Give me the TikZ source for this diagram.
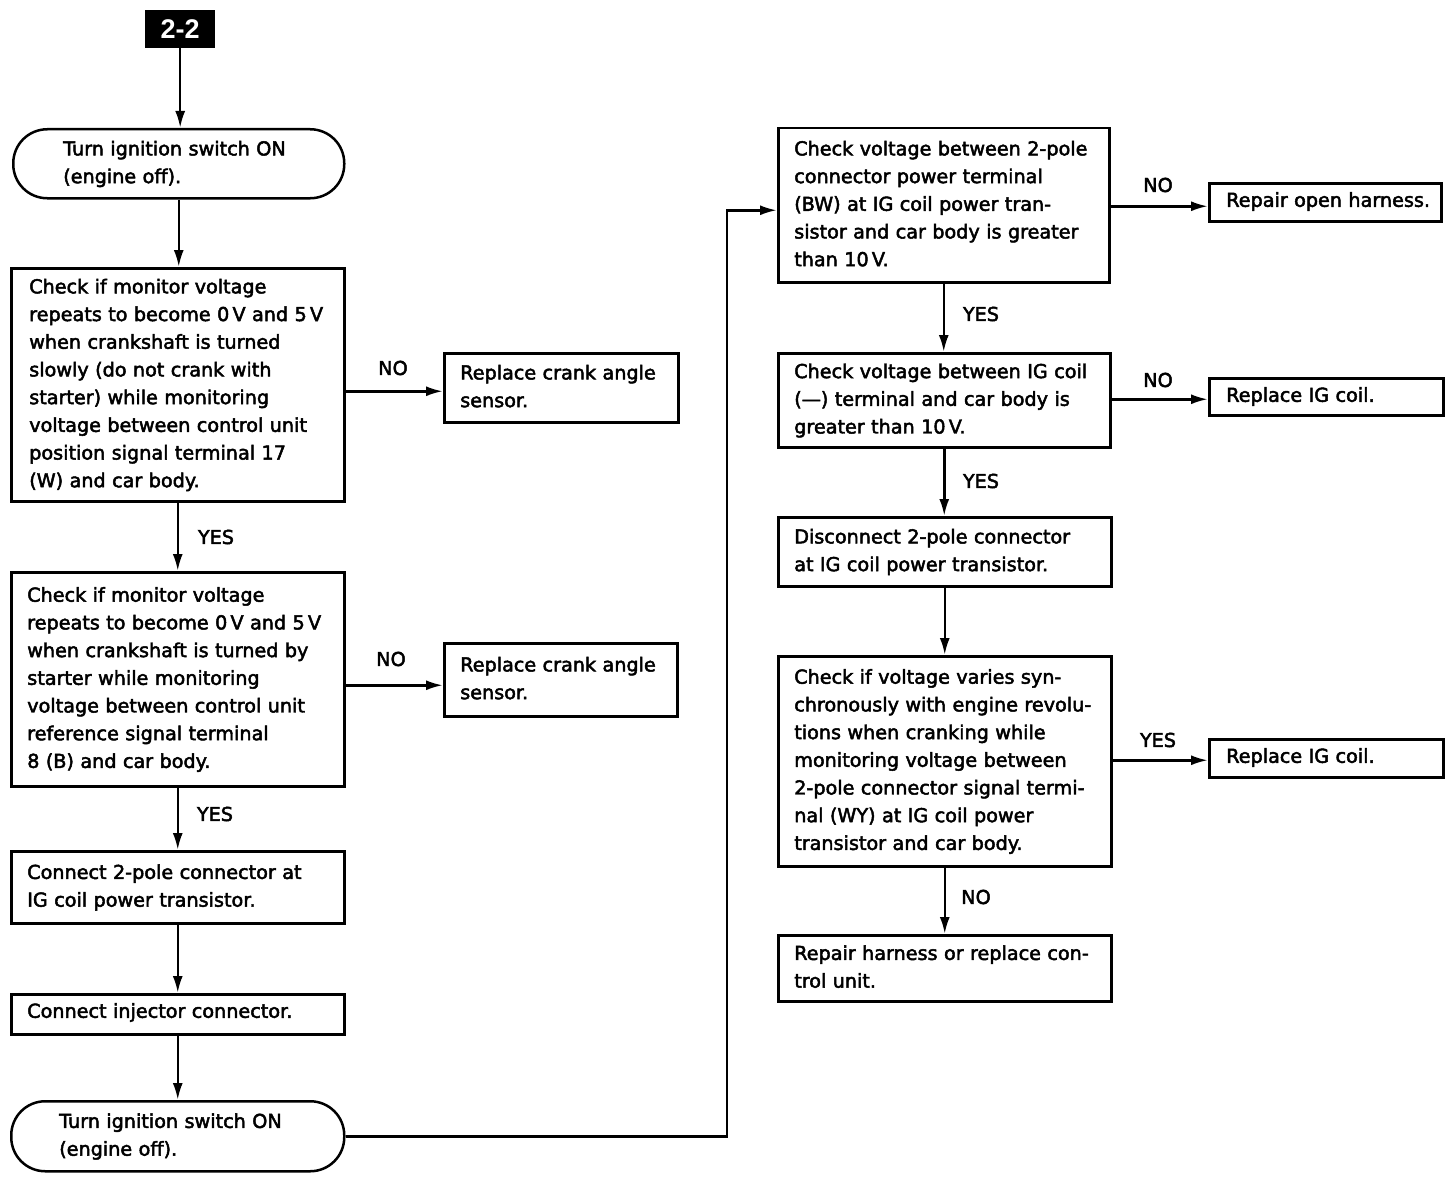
\documentclass[tikz,border=0pt]{standalone}
\usepackage{fontspec}
\setmainfont{DejaVu Sans}[FakeBold=2.5]
\newfontfamily\labfam{Liberation Sans}
\usetikzlibrary{arrows.meta}
\newcommand{\boxtxt}[3][0pt]{\begin{tabular}{@{\hspace{#2}}l@{}}#3\\[#1]\end{tabular}}
\begin{document}
\begin{tikzpicture}[x=1pt,y=-1pt,
  every node/.style={font=\fontsize{19.2}{27.7}\selectfont},
  box/.style={draw, line width=2.5pt, inner sep=0pt, align=left, anchor=north west},
  term/.style={box, rounded corners=34pt},
  arr/.style={line width=2.5pt, -{Latex[length=17pt,width=10pt]}},
  lab/.style={inner sep=0pt, anchor=center}]
\useasboundingbox (0,0) rectangle (1456,1180);

% start label
\node[fill=black, text=white, inner sep=0pt, minimum width=70pt, minimum height=38pt,
  anchor=north west, font=\labfam\bfseries\fontsize{27}{30}\selectfont] (start) at (145,10) {2-2};

% left column
\node[term, text width=331pt, minimum height=69pt] (t1) at (12,128)
  {\boxtxt{50pt}{Turn ignition switch ON\\(engine off).}};
\node[box, text width=333pt, minimum height=233pt] (b1) at (10,267)
  {\boxtxt{18pt}{Check if monitor voltage\\repeats to become 0\,V and 5\,V\\when crankshaft is turned\\slowly (do not crank with\\starter) while monitoring\\voltage between control unit\\position signal terminal 17\\(W) and car body.}};
\node[box, text width=234pt, minimum height=69pt] (r1) at (443,352)
  {\boxtxt{16pt}{Replace crank angle\\sensor.}};
\node[box, text width=333pt, minimum height=214pt] (b2) at (10,571)
  {\boxtxt{16pt}{Check if monitor voltage\\repeats to become 0\,V and 5\,V\\when crankshaft is turned by\\starter while monitoring\\voltage between control unit\\reference signal terminal\\8 (B) and car body.}};
\node[box, text width=233pt, minimum height=73pt] (r2) at (443,642)
  {\boxtxt{16pt}{Replace crank angle\\sensor.}};
\node[box, text width=333pt, minimum height=72pt] (b3) at (10,850)
  {\boxtxt{16pt}{Connect 2-pole connector at\\IG coil power transistor.}};
\node[box, text width=333pt, minimum height=40pt] (b4) at (10,993)
  {\boxtxt[4pt]{16pt}{Connect injector connector.}};
\node[term, text width=333pt, minimum height=70pt] (t2) at (10,1100)
  {\boxtxt{48pt}{Turn ignition switch ON\\(engine off).}};

% right column
\node[box, text width=331pt, minimum height=154pt] (c1) at (777,127)
  {\boxtxt{16pt}{Check voltage between 2-pole\\connector power terminal\\(BW) at IG coil power tran-\\sistor and car body is greater\\than 10\,V.}};
\node[box, text width=232pt, minimum height=38pt] (r3) at (1208,182)
  {\boxtxt[2pt]{17pt}{Repair open harness.}};
\node[box, text width=332pt, minimum height=94pt] (c2) at (777,352)
  {\boxtxt{16pt}{Check voltage between IG coil\\(—) terminal and car body is\\greater than 10\,V.}};
\node[box, text width=234pt, minimum height=37pt] (r4) at (1208,377)
  {\boxtxt[1pt]{17pt}{Replace IG coil.}};
\node[box, text width=333pt, minimum height=69pt] (c3) at (777,516)
  {\boxtxt{16pt}{Disconnect 2-pole connector\\at IG coil power transistor.}};
\node[box, text width=333pt, minimum height=210pt] (c4) at (777,655)
  {\boxtxt{16pt}{Check if voltage varies syn-\\chronously with engine revolu-\\tions when cranking while\\monitoring voltage between\\2-pole connector signal termi-\\nal (WY) at IG coil power\\transistor and car body.}};
\node[box, text width=234pt, minimum height=38pt] (r5) at (1208,738)
  {\boxtxt[2pt]{17pt}{Replace IG coil.}};
\node[box, text width=333pt, minimum height=66pt] (c5) at (777,934)
  {\boxtxt{16pt}{Repair harness or replace con-\\trol unit.}};

% branch labels
\node[lab] (yes1) at (216,537) {YES};
\node[lab] (yes2) at (215,814) {YES};
\node[lab] (no1) at (393,368) {NO};
\node[lab] (no2) at (391,659) {NO};
\node[lab] (no3) at (1158,185) {NO};
\node[lab] (yes3) at (981,314) {YES};
\node[lab] (no4) at (1158,380) {NO};
\node[lab] (yes4) at (981,481) {YES};
\node[lab] (yes5) at (1158,740) {YES};
\node[lab] (no5) at (976,897) {NO};

% entry points of side arrows
\coordinate (r1in) at ([yshift=-3.5pt]r1.west);
\coordinate (r2in) at ([yshift=-5.5pt]r2.west);
\coordinate (r3in) at ([yshift=-4pt]r3.west);
\coordinate (r4in) at ([yshift=-2.5pt]r4.west);
\coordinate (r5in) at ([yshift=-2pt]r5.west);
\coordinate (c1in) at ([yshift=-5pt]c1.west);
\coordinate (jog) at (727,0);

% connectors
\draw[arr] (start.south) -- (start.south |- t1.north);
\draw[arr] (t1.south) -- (t1.south |- b1.north);
\draw[arr] (b1.south) -- (b2.north);
\draw[arr] (b1.east |- r1in) -- (r1in);
\draw[arr] (b2.south) -- (b3.north);
\draw[arr] (b2.east |- r2in) -- (r2in);
\draw[arr] (b3.south) -- (b4.north);
\draw[arr] (b4.south) -- (t2.north);
\draw[arr] (t2.east) -| (jog |- c1in) -- (c1in);
\draw[arr] (c1.east |- r3in) -- (r3in);
\draw[arr] (c1.south) -- (c1.south |- c2.north);
\draw[arr] (c2.east |- r4in) -- (r4in);
\draw[arr] (c2.south) -- (c2.south |- c3.north);
\draw[arr] (c3.south) -- (c4.north);
\draw[arr] (c4.east |- r5in) -- (r5in);
\draw[arr] (c4.south) -- (c5.north);
\end{tikzpicture}
\end{document}
